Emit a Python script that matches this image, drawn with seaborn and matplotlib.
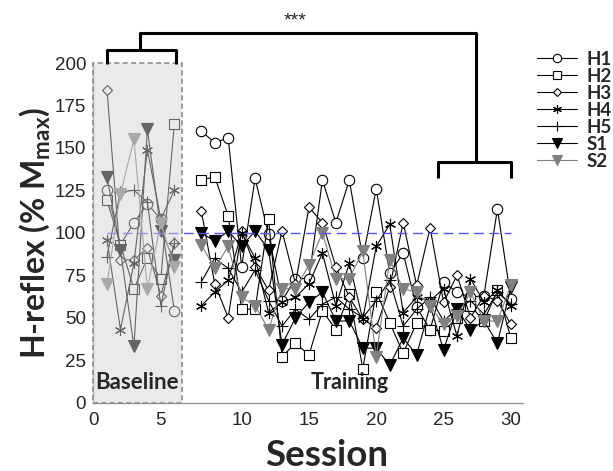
import numpy as np
import pandas as pd
import matplotlib
matplotlib.use("Agg")
import matplotlib.pyplot as plt
import seaborn as sns
from matplotlib.patches import Rectangle

# ---------------- data ----------------
series_names = ["H1", "H2", "H3", "H4", "H5", "S1", "S2"]
baseline_x = [0, 1, 2, 3, 4, 5]
training_x = list(range(7, 31))

baseline_H1 = [125, 93, 106, 117, 108, 54]
baseline_H2 = [119, 93, 67, 85, 73, 164]
baseline_H3 = [184, 84, 84, 91, 63, 94]
baseline_H4 = [96, 43, 82, 149, 108, 125]
baseline_H5 = [86, 124, 125, 118, 57, 94]
baseline_S1 = [133, 90, 33, 161, 101, 84]
baseline_S2 = [70, 123, 155, 67, 106, 80]

training_H1 = [160, 153, 156, 80, 132, 99, 60, 73, 73, 131, 106, 131, 85, 126, 76, 88, 56, 43, 71, 65, 62, 63, 114, 61]
training_H2 = [131, 133, 110, 55, 55, 108, 27, 35, 28, 54, 43, 64, 20, 65, 47, 29, 47, 43, 42, 50, 57, 48, 66, 38]
training_H3 = [113, 70, 50, 101, 80, 66, 101, 70, 115, 106, 80, 62, 49, 44, 68, 106, 69, 103, 59, 75, 50, 63, 60, 46]
training_H4 = [57, 65, 72, 100, 85, 53, 59, 62, 70, 88, 57, 82, 49, 92, 105, 53, 62, 60, 67, 39, 73, 59, 66, 57]
training_H5 = [71, 85, 79, 65, 78, 60, 45, 55, 49, 58, 62, 55, 50, 60, 72, 45, 55, 62, 48, 55, 60, 52, 65, 58]
training_S1 = [100, 95, 101, 92, 101, 90, 34, 50, 59, 65, 48, 48, 32, 32, 22, 38, 28, 57, 31, 55, 43, 48, 35, 68]
training_S2 = [93, 79, 92, 62, 57, 43, 67, 67, 81, 100, 73, 73, 89, 27, 84, 67, 65, 57, 46, 51, 65, 48, 48, 69]

baseline_vals = [baseline_H1, baseline_H2, baseline_H3, baseline_H4, baseline_H5, baseline_S1, baseline_S2]
training_vals = [training_H1, training_H2, training_H3, training_H4, training_H5, training_S1, training_S2]

xtick_pos = [-1, 4, 10, 15, 20, 25, 30]
xtick_labels = ["0", "5", "10", "15", "20", "25", "30"]
ytick_vals = [0, 25, 50, 75, 100, 125, 150, 175, 200]

rows = []
for name, bv, tv in zip(series_names, baseline_vals, training_vals):
    for x, v in zip(baseline_x, bv):
        rows.append(dict(series=name, phase="Baseline", x=x, value=v))
    for x, v in zip(training_x, tv):
        rows.append(dict(series=name, phase="Training", x=x, value=v))
df = pd.DataFrame(rows)

# ---------------- style ----------------
sns.set_theme(style="white")
plt.rcParams["font.family"] = ["Liberation Sans", "DejaVu Sans"]
plt.rcParams["mathtext.fontset"] = "custom"
plt.rcParams["mathtext.rm"] = "Lato:bold"
plt.rcParams["mathtext.it"] = "Lato:bold"
plt.rcParams["mathtext.bf"] = "Lato:bold"

styles = {
    "H1": dict(marker="o", ms=7.5, mfc="white", mec="black", color="black"),
    "H2": dict(marker="s", ms=6.5, mfc="white", mec="black", color="black"),
    "H3": dict(marker="D", ms=5.5, mfc="white", mec="black", color="black"),
    "H4": dict(marker=(6, 2, 0), ms=8, mfc="black", mec="black", color="black"),
    "H5": dict(marker="+", ms=9, mfc="black", mec="black", color="black"),
    "S1": dict(marker="v", ms=9, mfc="black", mec="black", color="black"),
    "S2": dict(marker="v", ms=9, mfc="#808080", mec="#808080", color="#808080"),
}

fig = plt.figure(figsize=(6.13, 4.71), dpi=100)
ax = fig.add_axes([93 / 613, 1 - 402.5 / 471, (523 - 93) / 613, (402.5 - 63) / 471])

for name in series_names:
    st = styles[name]
    for phase in ["Baseline", "Training"]:
        sub = df[(df.series == name) & (df.phase == phase)]
        sns.lineplot(data=sub, x="x", y="value", ax=ax, sort=False,
                     color=st["color"], lw=0.8, marker=st["marker"],
                     markersize=st["ms"], markerfacecolor=st["mfc"],
                     markeredgecolor=st["mec"], markeredgewidth=0.8,
                     label=name if phase == "Training" else None,
                     legend=False, zorder=3)

# reference line at 100 %
ax.axhline(100, xmin=(0 + 1.04) / 31.94, xmax=(30 + 1.04) / 31.94,
           color="#5555ff", lw=1.0, ls=(0, (7, 4)), zorder=4)

# baseline shaded box (overlay)
ax.add_patch(Rectangle((-1.04, 0), 6.62, 200, facecolor="#d4d4d4",
                       alpha=0.48, edgecolor="none", zorder=5))
ax.add_patch(Rectangle((-1.04, 0), 6.62, 200, facecolor="none",
                       edgecolor="#8c8c8c", lw=1.2, ls=(0, (3, 2)), zorder=6,
                       clip_on=False))

ax.text(2.25, 12, "Baseline", ha="center", va="center", fontsize=16,
        fontweight="bold", family="Lato", zorder=7)
ax.text(18.0, 12, "Training", ha="center", va="center", fontsize=15.5,
        fontweight="bold", family="Lato", zorder=7)

# significance brackets
bk = dict(color="black", lw=2.2, clip_on=False, zorder=8, solid_capstyle="butt")
ax.plot([0, 0, 5.15, 5.15], [199.5, 207.5, 207.5, 199.5], **bk)
ax.plot([2.45, 2.45, 27.4, 27.4], [207.5, 217.7, 217.7, 141.5], **bk)
ax.plot([24.6, 24.6, 30, 30], [132, 141.5, 141.5, 132], **bk)
ax.text(13.96, 225.0, "***", ha="center", va="center", fontsize=14,
        color="#222222")

ax.set_xlim(-1.04, 30.9)
ax.set_ylim(0, 200)
ax.set_xticks(xtick_pos)
ax.set_xticklabels(xtick_labels)
ax.set_yticks(ytick_vals)
ax.tick_params(axis="both", direction="in", length=3, width=0.8, color="#888888",
               labelsize=13.5, labelcolor="#262626")
ax.tick_params(axis="x", pad=7)
ax.tick_params(axis="y", length=0, pad=5)
for side in ["top", "right"]:
    ax.spines[side].set_visible(False)
for side in ["left", "bottom"]:
    ax.spines[side].set_color("#999999")
    ax.spines[side].set_linewidth(1.0)

ax.set_xlabel("Session", fontsize=26.5, fontweight="bold", family="Lato", va="top")
ax.xaxis.set_label_coords(0.544, -0.107)
ax.set_ylabel(r"H-reflex (% M$_{\mathrm{max}}$)", fontsize=23, fontweight="bold",
              family="Lato", labelpad=2)

handles, labels = ax.get_legend_handles_labels()
leg = fig.legend(handles, labels, loc="upper left", bbox_to_anchor=(537 / 613, 1 - 51 / 471),
                 frameon=False, handlelength=2.15, handletextpad=0.5, labelspacing=0.0,
                 markerscale=0.8, borderpad=0, borderaxespad=0,
                 prop=dict(family="Lato", weight="bold", size=13.5))

fig.savefig("out.png", dpi=100)
